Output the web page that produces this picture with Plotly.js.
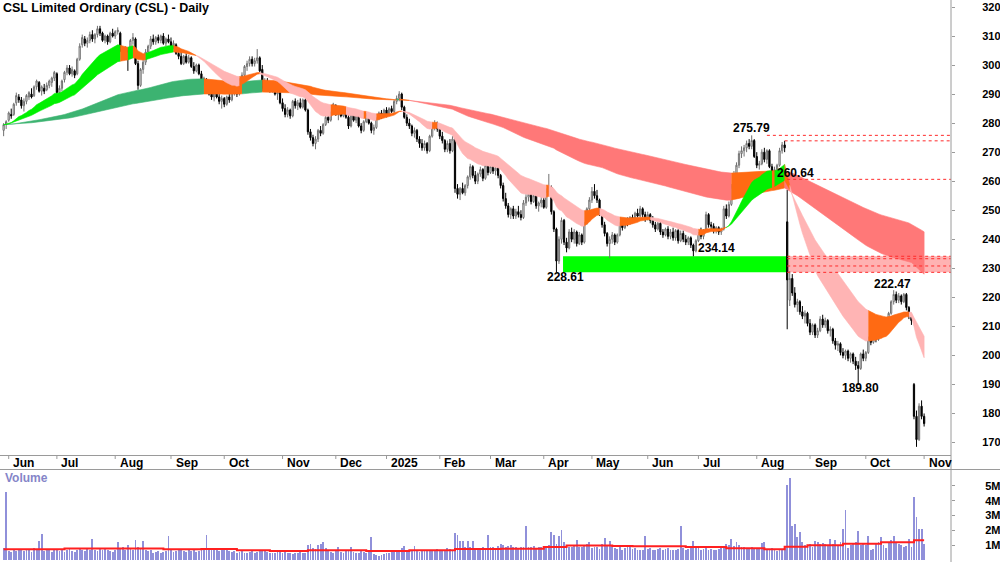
<!DOCTYPE html>
<html><head><meta charset="utf-8">
<script src="https://cdn.plot.ly/plotly-3.0.1.min.js"></script>
<style>html,body{margin:0;padding:0;background:#fff}#chart{width:1000px;height:562px}</style>
</head><body><div id="chart"></div>
<script>
// ---- data (A$; volume in millions) : bar index 0 = 30 May 2024 ... 363 = 3 Nov 2025
const openP = [
277.5,279.5,281,283,283,287,289,288,286,287.5,
289,290,289.5,292.5,294,291,292,291.5,293,294,
295.5,297,290.5,292,295,297.5,299,297,298,297,
302,307,309,307.5,308.5,310.5,309,310.5,312.5,311,
308.5,310,308,311,310,311.5,311,305,303.5,305,
304.5,308.5,309,300.5,293,298.5,301,304.5,306.5,309,
308,309.5,308.5,310,307.5,309,308,306.5,307,304,
303,300.5,303,301,302.5,299.5,298,300,297,294.5,
295,292,290,289,290.5,289,287.5,288.5,286.5,289,
288,290.5,292.5,290,295,296.5,299.5,300.5,302,300.5,
301.5,302.5,298.5,292,294.5,293,291.5,292.5,290,290.5,
287,285,283,284.5,282.5,287.5,286,287,285.5,288,
284.5,277,275,273,274.5,277.5,276.5,279.5,282,281,
283.5,286,283,284.5,282.5,285,282,279,283,281,
282.5,279,277.5,280.5,283,280,277.5,278.5,281.5,283.5,
282.5,284.5,283,285,284,287.5,288.5,290,285.5,282,
280,279,276.5,277.5,274.5,273,271.5,273,270.5,275.5,
279,280,278,275.5,274,271,273,270.5,274.5,257.5,
255.5,257.5,256,258.5,261.5,265,262,260,262.5,264,
261,265.5,263,265,263.5,264.5,262,258.5,254,251.5,
248.5,250.5,248,249.5,248.5,247.5,252.5,254.5,255.5,253,
255,251.5,252.5,253.5,251,256.5,258,249.5,243.5,232.5,
240,246.5,239,237,242.5,240,242.5,238.5,241.5,239,
245.5,250.5,253.5,256.5,255,253.5,249,245,242,238.5,
240,241.5,239,241.5,245.5,244,246.5,245.5,247.5,246.5,
249,248,250.5,248.5,247,248.5,246.5,245,243.5,245.5,
242.5,241.5,243.5,241,242.5,240.5,243,239.5,242,240,
239,240.5,238,236,239.5,242,241,243,248.5,245,
244.5,243,244,242.5,243.5,250.5,248,252,258,262.5,
265.5,269.5,270.5,271.5,273,272,274,268.5,265.5,266,
270,267.5,270.5,265,263,264,265.5,270.5,272.5,246,
219,226.5,221.5,217.5,218.5,215,213.5,214.5,211,208,
210.5,207,208.5,212.5,210.5,212,208.5,209,205,203.5,
204,201,200,201.5,199,200.5,198,196.5,195.5,200.5,
199,201,206,204.5,207.5,205.5,209.5,207.5,210.5,209,
214.5,218.5,221,219,220.5,218.5,221,216.5,213.5,190,
179,171,182.5,179];
const highP = [
280,281,284,285,287,290.5,290,289,288.5,290,
291,292,293,295,294.5,293,293.5,294,295,296,
298,297.5,293,295,298,300,300,299.5,298.5,302.5,
307.5,310.5,310,309.5,311.5,312,311,313.5,313.5,311.5,
310.5,310.5,311.5,312.5,312,313,311.5,306,306.5,306,
309,311,309.5,301.5,299,302,305.5,307,310,310.5,
310,310.5,310.5,311,309.5,310.5,309.5,308.5,307.5,305,
304.5,303.5,304,303.5,303,301,300.5,300.5,298,296,
295.5,293,291.5,291,292,290,289.5,289,289.5,290,
291,293.5,293,295.5,297.5,300,301.5,303,303,302.5,
305.5,303,300,295.5,295.5,294,293.5,293,291.5,291,
288.5,286.5,285.5,285,288,288.5,288,288.5,288.5,288.5,
285,278,276,275.5,278,279,280,282.5,283.5,284,
287,286.5,285,285.5,285.5,285.5,283,283.5,284,283.5,
283,280,281,283.5,283.5,280.5,279.5,282,284,284.5,
285,285.5,285.5,286,288,289.5,291,290.5,286,283,
281.5,279.5,278.5,278,275.5,274.5,274,273.5,276,280,
281,280.5,278.5,277,274.5,274,274.5,275.5,276,259,
258,259.5,259,262,266,265.5,263.5,263,265,264.5,
266,266.5,265.5,266,265.5,265,262.5,259.5,256,252.5,
251,251.5,250.5,251.5,250,253.5,255.5,256.5,256,256,
255.5,253,254.5,255,257.5,262.5,258.5,250,244,241,
247.5,247,240.5,243.5,244,243.5,243,242.5,242,246,
251,254.5,258,259,257,254,249.5,246,242.5,241,
242.5,242,242,246,246.5,247,247.5,248,248.5,249.5,
250.5,251.5,251,249.5,249.5,249,248,246,246,246,
243.5,244,244.5,243.5,244,243.5,243.5,243,243,241.5,
241,241,238.5,240,242.5,244,243.5,249.5,249,246,
245.5,244.5,244.5,244,251.5,252,253,259,263.5,266.5,
270.5,272,272.5,274,274.5,275.79,274.5,270,267,271,
271.5,271,271,266,265,266,271.5,273.5,273.9,257,
229,228,223.5,219.5,219,217,215.5,215,212.5,211,
211,209.5,213.5,214,213,212.5,210,209.5,206,205,
204.5,202.5,202,202,201,201,199.5,198,201,202,
201.5,206.5,207.5,208.5,208,210,210.5,211.5,211,215,
219,222.47,222,221.5,221,221.5,221.5,217,214,190.5,
181,183.5,184.5,180];
const lowP = [
275.5,278,280.5,281.5,282.5,286,287,285,284,286.5,
288,288.5,289,291.5,290.5,289.5,290,291,292,292.5,
294.5,290,289.5,291,294,296.5,296.5,296,295.5,296.5,
301.5,306,306.5,306,307.5,308,307.5,309.5,310,308,
307.5,307,307.5,309.5,309,310.5,304.5,302,302.5,298,
304,307,300,291.5,292.5,297,300,303,305.5,307,
307,307.5,307.5,307,306.5,307.5,306,305.5,303.5,302,
300,300,300.5,300.5,299,297,297.5,296.5,294,293,
291.5,289.5,288,287.5,288.5,286.5,285,285.5,286,287,
287.5,289.5,289,289.5,294,295.5,298,299.5,299.5,299.5,
300.5,297.5,291,291.5,292,290.5,290.5,289.5,288,286.5,
284,282,282,281.5,282,285,284.5,285,285,284,
276,274,272,271,273.5,275.5,276,279,280,280.5,
283,282.5,281,282,282,281.5,278,278.5,280.5,280,
278.5,276.5,277,280,279.5,276.5,276,278,281,281.5,
282,282,282.5,283.5,283.5,286.5,287.5,284.5,281.5,279,
278,275.5,275,273.5,271.5,270.5,270.5,269.5,270,275,
277.5,277,274.5,273,270,270,269.5,270,256,254,
253.5,255.5,255,257.5,260.5,261,259,259,261.5,260,
260.5,262,262.5,262.5,262,261,257.5,253,250.5,247.5,
247,247,247,247.5,246.5,247,251.5,253,252,252.5,
250.5,249.5,251,250.5,250.5,255,248.5,242.5,228.61,231.5,
238.5,238,235.5,236.5,239,238.5,237.5,238,238,238.5,
245,249.5,252.5,254,252.5,248,244,241,237.5,233.5,
238.5,238,238.5,241,243,243.5,244.5,245,245.5,246,
247.5,247.5,247.5,246,246.5,245.5,244,242.5,243,241.5,
240.5,241,240,240,239.5,239.5,238.5,239,239,238,
238,237,234.14,235.5,239,240,240,242.5,244,243,
242,242,241.5,241.5,243,247,247.5,251.5,257,261.5,
264.5,268,268.5,270,271,271,268,264.5,264,265.5,
266.5,266,264.5,260.64,261.5,262,265,269.5,270,209,
217,220.5,216.5,215,214,212.5,211,210,207,207,
206,206,208,209.5,209.5,207.5,206.5,204,202,201.5,
200,199,198.5,198,197.5,197,195,189.8,195,198,
198,200.5,203.5,204,204.5,205,206.5,207,207.5,208.5,
214,217.5,218,218,217.5,218,215.5,212.5,210.5,178,
168.5,170.5,178,175.5];
const closeP = [
279.5,280.5,283.5,282.5,286.5,289.5,288,286,287.5,289.5,
290.5,289,292.5,294.5,291,292.5,291,293,294.5,295.5,
297.5,290.5,292,294.5,297.5,299,297,298.5,296.5,302,
306.5,309.5,307.5,308.5,310.5,309,310.5,312.5,311,308.5,
310,308,311,310,311.5,312,305,303,305.5,304.5,
308.5,309.5,300.5,293,298.5,301,304.5,306.5,309,308,
309.5,308.5,310,307.5,309,308,306.5,307.5,304,303,
300.5,303,301,302.5,299.5,298,300,297,294.5,295.5,
292,290,289,290.5,289,287.5,288.5,286.5,289,288,
290.5,292.5,290,295,296.5,299.5,300.5,302,300.5,301.5,
302.5,298,292,294.5,293,291.5,292.5,290,290.5,287,
285,283,284.5,282.5,287.5,286,287,285.5,288,284.5,
277,275,273,274.5,277.5,276.5,279.5,282,281,283.5,
286.5,283,284.5,282.5,285,282,279,283,281,282.5,
279,277.5,280.5,283,280,277.5,278.5,281.5,283.5,282.5,
284.5,283,285,284,287.5,288.5,290,285.5,282,280,
279,276.5,277.5,274.5,273,271.5,273,270.5,275.5,279,
280,278,275.5,274,271,273,270.5,274.5,257.5,255.5,
257.5,256,258.5,261.5,265,262,260,262.5,264,261,
265.5,263,265,263.5,264.5,262,258.5,254,251.5,248.5,
250.5,248,249.5,248.5,247.5,252.5,254.5,255.5,253,255,
251.5,252.5,253.5,251,256.5,258,249.5,243.5,232.5,240,
246.5,239,237,242.5,240,242.5,238.5,241.5,239,245.5,
250.5,253.5,256.5,255,253.5,249,245,242,238.5,240,
241.5,239,241.5,245.5,244,246.5,245.5,247.5,246.5,249,
248,250.5,248.5,247,248.5,246.5,245,243.5,245.5,242.5,
241.5,243.5,241,242.5,240.5,243,239.5,242,240,239,
240.5,238,236,239.5,242,241,243,248.5,245,244.5,
243,244,242.5,243.5,250.5,248,252,258,262.5,265.5,
269.5,270.5,271.5,273,272,274,268.5,265.5,266,270,
267.5,270.5,265,263,264,265.5,270.5,272.5,271.5,226,
226.5,221.5,217.5,218.5,215,213.5,214.5,211,208,210.5,
207,208.5,212.5,210.5,212,208.5,209,205,203.5,204,
201,200,201.5,199,200.5,198,196.5,195.5,200.5,199,
201,206,204.5,207.5,205.5,209.5,207.5,210.5,209,214.5,
218.5,221,219,220.5,218.5,221,216.5,213.5,212,179,
171,182.5,179,176.5];
const volumeM = [
0.8,4.6,0.6,0.55,0.7,0.6,0.65,0.75,0.6,0.7,
0.65,0.55,0.8,0.7,1.3,1.75,0.6,0.7,0.65,0.55,
0.7,0.75,0.6,0.65,0.55,0.7,0.8,0.6,0.55,0.65,
0.75,0.7,0.6,0.8,0.65,1.4,0.7,0.6,0.75,0.65,
0.8,0.7,0.6,0.55,0.7,1.2,0.8,0.9,0.7,1.0,
0.75,0.7,1.35,0.9,0.8,1.3,0.7,0.6,0.65,0.5,
0.55,0.6,0.5,0.55,0.6,1.6,0.7,0.55,0.6,0.65,
0.7,0.6,0.55,0.65,0.6,0.7,0.55,0.6,0.65,0.7,
1.68,0.8,0.75,0.7,0.65,0.6,0.7,0.75,0.65,0.6,
0.55,0.6,0.5,0.55,0.6,0.45,0.5,0.55,0.6,0.5,
0.55,0.6,0.65,0.7,0.55,0.5,0.45,0.5,0.55,0.6,
0.5,0.55,0.45,0.5,0.4,0.45,0.5,0.55,0.5,0.45,
1.0,1.1,0.8,0.75,1.0,1.05,1.2,0.8,0.6,0.55,
0.5,0.6,0.85,0.55,0.5,0.6,0.65,0.9,0.55,0.5,
0.45,0.6,0.55,0.5,0.65,1.57,0.4,0.35,0.3,0.35,
0.4,0.45,0.5,0.55,0.6,0.65,0.7,0.8,0.96,0.7,
0.6,0.65,0.96,0.6,0.55,0.6,0.65,0.7,0.6,0.65,
0.7,0.75,0.6,0.65,0.7,0.8,0.75,0.7,1.8,1.7,
1.3,1.25,0.9,1.3,0.85,1.3,0.8,0.75,0.8,0.85,
0.7,1.68,0.9,0.85,0.8,0.95,1.05,1.0,0.9,0.95,
1.0,0.85,0.9,0.8,0.85,0.9,2.3,0.9,0.85,0.95,
0.8,0.85,0.9,0.95,0.9,1.0,1.86,1.68,1.1,1.63,
2.0,1.2,1.0,0.9,0.85,1.0,1.35,0.9,0.85,0.95,
1.05,1.2,0.8,0.85,0.9,0.75,1.1,1.5,1.0,1.25,
0.85,0.8,0.75,0.9,0.7,0.8,0.85,0.9,0.75,0.8,
0.7,0.65,0.7,1.65,0.75,0.8,0.7,0.65,0.75,0.8,
0.7,0.75,0.8,0.7,0.65,0.7,0.75,2.3,0.8,0.7,
0.75,0.8,1.25,0.9,0.8,0.7,0.75,0.8,0.7,0.75,
0.65,0.7,0.75,0.8,0.9,1.1,1.0,1.45,0.95,1.2,
1.0,0.9,0.85,0.8,0.75,0.9,0.8,0.75,0.8,1.15,
1.2,0.7,0.75,0.8,0.7,0.6,0.65,0.75,0.8,5.03,
5.55,2.28,2.46,1.57,1.86,1.2,1.0,0.95,1.1,0.9,
1.3,1.2,1.1,1.15,1.05,1.0,1.45,1.1,1.35,1.0,
1.2,2.1,3.36,0.8,1.0,1.1,1.2,1.97,1.0,1.1,
1.0,1.6,0.65,0.75,1.1,1.2,1.55,1.0,0.8,1.2,
1.35,1.6,1.2,1.1,1.0,0.9,0.95,1.4,0.9,4.25,
2.9,2.06,2.08,1.07];
// volume average (red line), read as steps: bar index where each level starts
const volAvgIdx = [0,24,63,78,92,105,120,143,160,178,196,213,222,240,248,269,285,300,308,317,331,346,359,363];
const volAvgM   = [0.72,0.78,0.72,0.74,0.65,0.6,0.65,0.6,0.65,0.74,0.76,0.87,0.98,0.94,0.92,0.87,0.8,0.72,0.9,1.0,1.1,1.19,1.34,1.34];
const monthIdx = [2,21,44,66,87,110,131,151,172,192,213,232,254,274,297,318,340,363];
const monthLabels = ['Jun','Jul','Aug','Sep','Oct','Nov','Dec','2025','Feb','Mar','Apr','May','Jun','Jul','Aug','Sep','Oct','Nov'];
const priceTicks = [170,180,190,200,210,220,230,240,250,260,270,280,290,300,310,320];
const volTicks = [1,2,3,4,5];
const pointLabels = ['275.79','260.64','234.14','228.61','222.47','189.80'];
const resistLevels = [275.79, 273.9, 260.64];
const zoneLow = 228.61, zoneHigh = 234.14, zoneInner = [233.3, 230.8];

// ---- geometry
const W = 1000, H = 562;
const NARROW = '"Liberation Sans Narrow","Arial Narrow","Liberation Sans",Arial,sans-serif';
const SANS = '"Liberation Sans",Arial,sans-serif';
const idx = closeP.map((_, i) => i);
const xr = [-1.43, 373.6];
const py = px => 1 - px / H;   // pixel row -> paper y

function ema(arr, n) {
  const a = 2 / (n + 1); const out = []; let e = arr[0];
  for (let i = 0; i < arr.length; i++) { if (i > 0) e = e + a * (arr[i] - e); out.push(e); }
  return out;
}
function bandTraces(fast, slow, cUp, cMid, cDown, lag) {
  const n = fast.length; const col = [null];
  for (let i = 1; i < n; i++) {
    const j = Math.max(0, i - lag);
    const rising = fast[i] > fast[j]; const above = fast[i] > slow[i];
    col.push(above && rising ? cUp : (!above && !rising ? cDown : cMid));
  }
  const out = []; let s = 1;
  for (let i = 2; i <= n; i++) {
    if (i === n || col[i] !== col[s]) {
      const xs = [], ys = [];
      for (let k = s - 1; k <= i - 1; k++) { xs.push(k); ys.push(fast[k]); }
      for (let k = i - 1; k >= s - 1; k--) { xs.push(k); ys.push(slow[k]); }
      out.push({type:'scatter', mode:'lines', x:xs, y:ys, fill:'toself', fillcolor:col[s],
        line:{width:0.6, color:col[s]}, hoverinfo:'skip', showlegend:false, xaxis:'x', yaxis:'y'});
      s = i;
    }
  }
  return out;
}

const eLf = ema(closeP, 130), eLs = ema(closeP, 240);
const eSf = ema(closeP, 20), eSs = ema(closeP, 40);

const traces = [];
bandTraces(eLf, eLs, '#3cb371', '#ff6a13', '#ff7878', 3).forEach(t => traces.push(t));
bandTraces(eSf, eSs, '#00f000', '#ff6a13', '#ffb4b4', 2).forEach(t => traces.push(t));
traces.push({type:'candlestick', x:idx, open:openP, high:highP, low:lowP, close:closeP,
  increasing:{line:{color:'#707070', width:1}, fillcolor:'#ffffff'},
  decreasing:{line:{color:'#000000', width:1}, fillcolor:'#000000'},
  whiskerwidth:0, hoverinfo:'skip', showlegend:false, xaxis:'x', yaxis:'y'});
traces.push({type:'bar', x:idx, y:volumeM.map(v => v * 1e6), width:0.72,
  marker:{color:'#9090da', line:{width:0}}, hoverinfo:'skip', showlegend:false, xaxis:'x', yaxis:'y2'});
traces.push({type:'scatter', mode:'lines', x:volAvgIdx, y:volAvgM.map(v => v * 1e6),
  line:{color:'#ff2020', width:2, shape:'hv'}, hoverinfo:'skip', showlegend:false, xaxis:'x', yaxis:'y2'});

const shapes = [];
shapes.push({type:'rect', xref:'x', yref:'y', x0:220.6, x1:309, y0:zoneLow, y1:zoneHigh,
  fillcolor:'#00ff00', line:{width:0}, layer:'below'});
shapes.push({type:'rect', xref:'x', yref:'y', x0:309, x1:xr[1], y0:zoneLow, y1:zoneHigh,
  fillcolor:'#ffb2b2', line:{width:0}, layer:'below'});
[zoneHigh, zoneInner[0], zoneInner[1], zoneLow].forEach(v => shapes.push({type:'line', xref:'x', yref:'y',
  x0:309, x1:xr[1], y0:v, y1:v, line:{color:'#ff2a2a', width:1, dash:'dot'}, layer:'above'}));
const resStart = [301, 308, 309];
resistLevels.forEach((v, i) => shapes.push({type:'line', xref:'x', yref:'y', x0:resStart[i], x1:xr[1],
  y0:v, y1:v, line:{color:'#ff2a2a', width:1, dash:'dot'}, layer:'above'}));
shapes.push({type:'line', xref:'paper', yref:'paper', x0:0, x1:1, y0:py(455.5), y1:py(455.5), line:{color:'#9a9a9a', width:1}});
shapes.push({type:'line', xref:'paper', yref:'paper', x0:0, x1:W/951, y0:py(469.5), y1:py(469.5), line:{color:'#9a9a9a', width:1}});
shapes.push({type:'line', xref:'paper', yref:'paper', x0:1, x1:1, y0:0, y1:1, line:{color:'#9a9a9a', width:1}});
monthIdx.forEach(m => shapes.push({type:'line', xref:'x', yref:'paper', x0:m, x1:m, y0:py(455.5), y1:py(459),
  line:{color:'#9a9a9a', width:1}}));

const annotations = [];
annotations.push({xref:'paper', yref:'paper', x:0.001, y:py(8.5), xanchor:'left', yanchor:'middle',
  text:'CSL Limited Ordinary (CSL) - Daily', showarrow:false, font:{family:NARROW, size:12.5, color:'#000', weight:700}});
annotations.push({xref:'paper', yref:'paper', x:0.003, y:py(478), xanchor:'left', yanchor:'middle',
  text:'Volume', showarrow:false, font:{family:NARROW, size:12, color:'#8585c8', weight:700}});
monthIdx.forEach((m, i) => annotations.push({xref:'x', yref:'paper', x:m + 1.0, y:py(462.5), xanchor:'left', yanchor:'middle',
  text:monthLabels[i], showarrow:false, font:{family:NARROW, size:12, color:'#000', weight:700}}));
const lblPos = [[295, 278.3], [312.1, 262.9], [281.2, 236.9], [221.6, 227.0], [350.6, 224.5], [337.9, 188.6]];
pointLabels.forEach((t, i) => annotations.push({xref:'x', yref:'y', x:lblPos[i][0], y:lblPos[i][1],
  xanchor:'center', yanchor:'middle', text:t, showarrow:false, font:{family:NARROW, size:12, color:'#000', weight:700}}));

const layout = {
  width:W, height:H, margin:{l:0, r:49, t:0, b:0}, paper_bgcolor:'#fff', plot_bgcolor:'#fff',
  showlegend:false, hovermode:false, bargap:0,
  xaxis:{range:xr, showgrid:false, zeroline:false, showticklabels:false, ticks:'', showline:false,
    rangeslider:{visible:false}, fixedrange:true, anchor:'y2'},
  yaxis:{domain:[py(455.5), 1], range:[165.52, 322.41], side:'right', anchor:'x', showgrid:false, zeroline:false,
    tickvals:priceTicks, ticks:'outside', ticklen:3, tickcolor:'#9a9a9a', ticklabelstandoff:25,
    tickfont:{family:SANS, size:11, color:'#000', weight:700}, showline:false, fixedrange:true},
  yaxis2:{domain:[0, py(469.5)], range:[-0.134e6, 6.1e6], side:'right', anchor:'x', showgrid:false, zeroline:false,
    tickvals:volTicks.map(v => v * 1e6), ticktext:volTicks.map(v => v + 'M'), ticks:'outside', ticklen:3,
    tickcolor:'#9a9a9a', ticklabelstandoff:28, tickfont:{family:SANS, size:11, color:'#000', weight:700},
    showline:false, fixedrange:true},
  shapes:shapes, annotations:annotations
};
Plotly.newPlot('chart', traces, layout, {staticPlot:true, displayModeBar:false});
</script>
</body></html>
